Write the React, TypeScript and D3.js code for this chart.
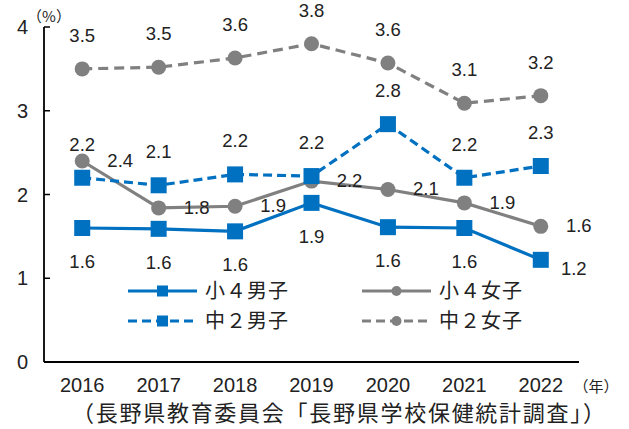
import React from "react";
import * as d3 from "d3";

const years = ["2016", "2017", "2018", "2019", "2020", "2021", "2022"];
const boys4 = [1.6, 1.59, 1.56, 1.9, 1.61, 1.6, 1.22];
const girls4 = [2.4, 1.84, 1.86, 2.16, 2.06, 1.9, 1.62];
const boys8 = [2.2, 2.11, 2.24, 2.22, 2.84, 2.2, 2.34];
const girls8 = [3.5, 3.52, 3.63, 3.8, 3.57, 3.09, 3.18];
const yTicks = [0, 1, 2, 3, 4];
const seriesNames = ["小４男子", "小４女子", "中２男子", "中２女子"];
const sourceText = "（長野県教育委員会「長野県学校保健統計調査」）";

const BLUE = "#0070C0";
const GRAY = "#808080";
const JP = "'Noto Sans CJK JP', sans-serif";
const NUM = "'Liberation Sans', Arial, sans-serif";

type Series = {
  name: string;
  values: number[];
  color: string;
  dash: string | null;
  marker: "square" | "circle";
  labelPos: "above" | "below" | "right";
};

const series: Series[] = [
  { name: seriesNames[0], values: boys4, color: BLUE, dash: null, marker: "square", labelPos: "below" },
  { name: seriesNames[1], values: girls4, color: GRAY, dash: null, marker: "circle", labelPos: "right" },
  { name: seriesNames[2], values: boys8, color: BLUE, dash: "9,5", marker: "square", labelPos: "above" },
  { name: seriesNames[3], values: girls8, color: GRAY, dash: "10,6", marker: "circle", labelPos: "above" },
];

export default function App() {
  const W = 629, H = 429;
  const left = 44, right = 579, top = 27, bottom = 362;
  const x = d3.scaleBand<string>().domain(years).range([left, right]);
  const y = d3.scaleLinear().domain([0, 4]).range([bottom, top]);
  const cx = (yr: string) => (x(yr) as number) + x.bandwidth() / 2;
  const fmt = d3.format(".1f");
  const line = d3.line<number>().x((_, i) => cx(years[i])).y((v) => y(v));

  const marker = (s: Series, px: number, py: number, size: number, key: string) =>
    s.marker === "square" ? (
      <rect key={key} x={px - size / 2} y={py - size / 2} width={size} height={size} fill={s.color} />
    ) : (
      <circle key={key} cx={px} cy={py} r={size / 2} fill={s.color} />
    );

  const labelPos = (s: Series, i: number, px: number, py: number) => {
    if (s.labelPos === "above") return [px, py - 27];
    if (s.labelPos === "right") return [px + 38, py + 6];
    if (i === years.length - 1) return [px + 33, py + 15];
    return [px, py + 40];
  };

  const legendItems = [
    { s: series[0], lx: 128, ly: 291 },
    { s: series[1], lx: 362, ly: 291 },
    { s: series[2], lx: 128, ly: 321 },
    { s: series[3], lx: 362, ly: 321 },
  ];

  return (
    <div style={{ position: "absolute", left: 0, top: 0 }}>
      <svg width={W} height={H} style={{ display: "block", background: "#fff" }}>
        <line x1={left} y1={top} x2={left} y2={bottom} stroke="#000" strokeWidth={1.8} />
        <line x1={left} y1={bottom} x2={right} y2={bottom} stroke="#000" strokeWidth={1.8} />
        {yTicks.map((t) => (
          <g key={t}>
            <line x1={left} x2={left + 6} y1={y(t)} y2={y(t)} stroke="#000" strokeWidth={1.5} />
            <text x={28} y={y(t) + 7} textAnchor="end" fontSize={20} fontFamily={NUM} fill="#222">
              {t}
            </text>
          </g>
        ))}
        <text x={49} y={22} textAnchor="middle" fontSize={15} fontFamily={JP} fill="#222">（%）</text>
        {years.map((yr) => (
          <text key={yr} x={cx(yr)} y={392} textAnchor="middle" fontSize={20} fontFamily={NUM} fill="#222">
            {yr}
          </text>
        ))}
        <text x={596} y={392} textAnchor="middle" fontSize={15} fontFamily={JP} fill="#222">（年）</text>

        {series.map((s) => (
          <g key={s.name}>
            <path
              d={line(s.values) as string}
              fill="none"
              stroke={s.color}
              strokeWidth={3.2}
              strokeDasharray={s.dash ?? undefined}
            />
            {s.values.map((v, i) => marker(s, cx(years[i]), y(v), s.marker === "square" ? 16 : 15, s.name + i))}
          </g>
        ))}
        {series.map((s) =>
          s.values.map((v, i) => {
            const [tx, ty] = labelPos(s, i, cx(years[i]), y(v));
            return (
              <text key={s.name + "l" + i} x={tx} y={ty} textAnchor="middle" fontSize={18.5} fontFamily={NUM} fill="#222">
                {fmt(v)}
              </text>
            );
          })
        )}

        {legendItems.map(({ s, lx, ly }) => (
          <g key={"lg" + s.name}>
            <line
              x1={lx}
              x2={lx + 69}
              y1={ly}
              y2={ly}
              stroke={s.color}
              strokeWidth={3.2}
              strokeDasharray={s.dash ? "9,5" : undefined}
            />
            {marker(s, lx + 34.5, ly, s.marker === "square" ? 11 : 10, "m")}
            <text x={lx + 77} y={ly + 7} fontSize={20} fontFamily={JP} fill="#222" textLength={83} lengthAdjust="spacing">
              {s.name}
            </text>
          </g>
        ))}

        <text x={72} y={421} fontSize={22} fontFamily={JP} fill="#222" textLength={533} lengthAdjust="spacing">
          {sourceText}
        </text>
      </svg>
    </div>
  );
}
